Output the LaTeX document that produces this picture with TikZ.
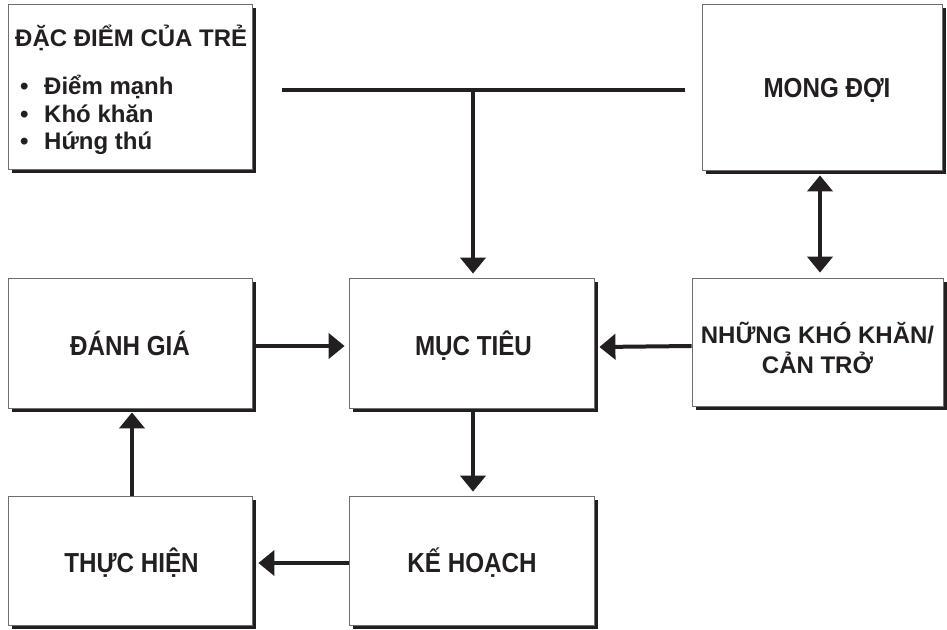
\documentclass[tikz,border=0pt]{standalone}
\usepackage{fontspec}
\setmainfont{Liberation Sans}
\usetikzlibrary{arrows.meta,shadows}
\definecolor{ink}{RGB}{35,31,32}
\definecolor{edge}{RGB}{110,110,110}
\newcommand{\bigtxt}[1]{\scalebox{0.88}[1]{\fontsize{27.5}{33}\selectfont #1}}
\begin{document}
\begin{tikzpicture}[x=1pt,y=-1pt,
  box/.style={draw=edge, line width=0.8pt, fill=white,
    drop shadow={shadow xshift=4pt, shadow yshift=-4pt, fill=ink, opacity=1},
    inner sep=0pt},
  txt/.style={font=\bfseries\fontsize{24}{28}\selectfont, text=ink, inner sep=0pt},
  btxt/.style={font=\bfseries, text=ink, inner sep=0pt, anchor=base},
  conn/.style={line width=4pt, draw=ink},
  tip/.style={-{Triangle[length=16pt,width=25pt]}},
  dtip/.style={{Triangle[length=16pt,width=25pt]}-{Triangle[length=16pt,width=25pt]}}
]
\useasboundingbox (0,0) rectangle (947,629);
\fill[white] (0,0) rectangle (947,629);

% boxes
\node[box, minimum width=244pt, minimum height=165pt] (dd) at (130,86.5) {};
\node[box, minimum width=240pt, minimum height=166pt] (mong) at (822,87) {};
\node[box, minimum width=244pt, minimum height=130pt] (danh) at (130,343) {};
\node[box, minimum width=245pt, minimum height=130pt] (muc) at (471.5,343) {};
\node[box, minimum width=251pt, minimum height=128pt] (nhung) at (817.5,342) {};
\node[box, minimum width=244pt, minimum height=129pt] (thuc) at (130,560.5) {};
\node[box, minimum width=245pt, minimum height=129pt] (ke) at (471.5,560.5) {};

% box labels
\node[btxt] (tmong) at (827,97) {\bigtxt{MONG ĐỢI}};
\node[btxt] (tdanh) at (130,355) {\bigtxt{ĐÁNH GIÁ}};
\node[btxt] (tmuc) at (473.5,355) {\bigtxt{MỤC TIÊU}};
\node[btxt] (tthuc) at (131.5,572) {\bigtxt{THỰC HIỆN}};
\node[btxt] (tke) at (472,572) {\bigtxt{KẾ HOẠCH}};
\node[txt, anchor=base] (tnh1) at (817.5,343) {NHỮNG KHÓ KHĂN/};
\node[txt, anchor=base] (tnh2) at (817.5,373) {CẢN TRỞ};

% text of the first box
\node[txt, anchor=base west] (dtitle) at (15,46) {ĐẶC ĐIỂM CỦA TRẺ};
\node[txt, anchor=base west] (bu1) at (20,94) {•};
\node[txt, anchor=base west] (it1) at (44,94) {Điểm mạnh};
\node[txt, anchor=base west] (bu2) at (20,122) {•};
\node[txt, anchor=base west] (it2) at (44,122) {Khó khăn};
\node[txt, anchor=base west] (bu3) at (20,149) {•};
\node[txt, anchor=base west] (it3) at (44,149) {Hứng thú};

% top bar
\coordinate (hl) at (282,90);
\coordinate (hr) at (685,90);
\coordinate (hm) at (473,90);
\draw[conn] (hl) -- (hr);
\draw[conn,tip] (hm) -- ([yshift=4pt]hm |- muc.north);

% connectors
\draw[conn,tip] ([xshift=4pt,yshift=-3pt]danh.east) -- ([xshift=-4pt,yshift=-3pt]muc.west);
\draw[conn,tip] ([yshift=-4pt]nhung.west) -- ([xshift=5pt,yshift=-4pt]muc.east);
\draw[conn,tip] ([xshift=1.5pt,yshift=-4pt]muc.south) -- ([xshift=1.5pt,yshift=4pt]ke.north);
\draw[conn,tip] ([yshift=-2.5pt]ke.west) -- ([xshift=6pt,yshift=-2.5pt]thuc.east);
\draw[conn,tip] ([xshift=2pt]thuc.north) -- ([xshift=2pt,yshift=-4pt]danh.south);
\draw[conn,dtip] ([xshift=-2pt,yshift=-5pt]mong.south) -- ([xshift=2.5pt,yshift=5pt]nhung.north);
\end{tikzpicture}
\end{document}
